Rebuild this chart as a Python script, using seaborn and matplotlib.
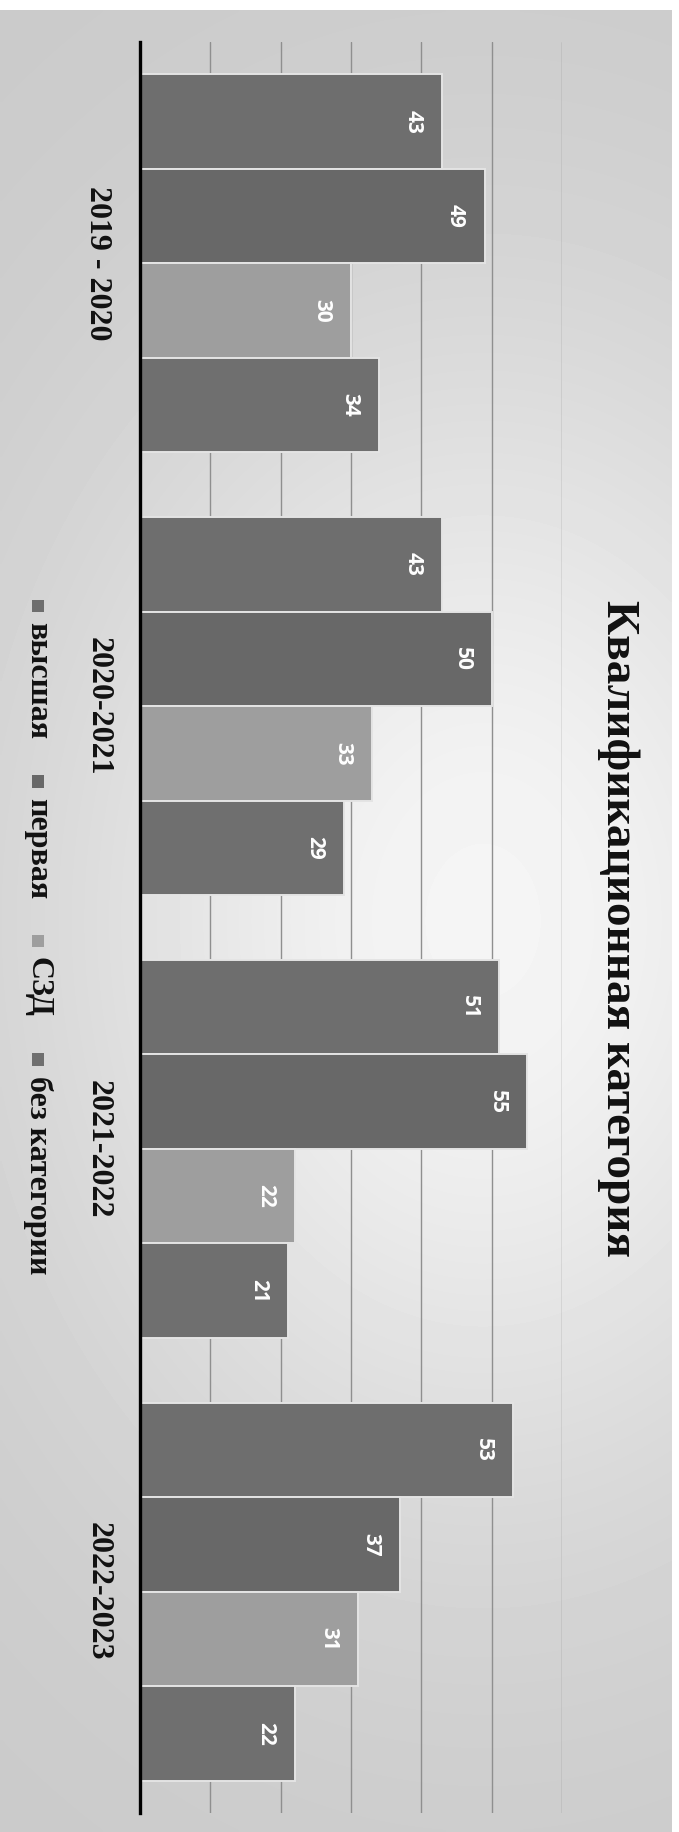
import numpy as np
import pandas as pd
import seaborn as sns
import matplotlib.pyplot as plt
from matplotlib.offsetbox import AnchoredOffsetbox, DrawingArea, TextArea, VPacker
from matplotlib.patches import Rectangle

years = ["2019 - 2020", "2020-2021", "2021-2022", "2022-2023"]
categories = ["высшая", "первая", "СЗД", "без категории"]
vysshaya = [43, 43, 51, 53]
pervaya = [49, 50, 55, 37]
szd = [30, 33, 22, 31]
bez_kat = [34, 29, 21, 22]
title = "Квалификационная категория"

colors = ["#6e6e6e", "#686868", "#9e9e9e", "#6f6f6f"]

sns.set_theme(style="white")
plt.rcParams['font.family'] = ['Liberation Serif', 'DejaVu Serif']

df = pd.DataFrame({
    'year': years * 4,
    'cat': [c for c in categories for _ in years],
    'value': vysshaya + pervaya + szd + bez_kat,
})

W, H = 679, 1832
fig = plt.figure(figsize=(W / 100, H / 100), dpi=100)
fig.patch.set_facecolor('white')

# scanned page background (light in the middle, greyer at the edges)
bg = fig.add_axes([0, 0, 672 / W, 1822 / H])
gx = np.linspace(0, 1, 200)
gy = np.linspace(0, 1, 400)
GX, GY = np.meshgrid(gx, gy)
shade = 0.79 + 0.17 * np.exp(-((GX - 0.72) / 0.65) ** 2 - ((GY - 0.5) / 0.32) ** 2)
bg.imshow(shade, cmap='gray', vmin=0, vmax=1, aspect='auto', extent=(0, 1, 0, 1),
          interpolation='bilinear')
bg.axis('off')
bg.set_zorder(-1)

ax = fig.add_axes([140 / W, 19 / H, 422 / W, 1771 / H])
ax.patch.set_alpha(0)

sns.barplot(data=df, y='year', x='value', hue='cat', orient='h', order=years,
            hue_order=categories, palette=colors, width=0.854, legend=False,
            edgecolor='#e4e4e4', linewidth=1.4, ax=ax)

ax.set_xlim(0, 60)
ax.set_xticks([10, 20, 30, 40, 50, 60])
ax.set_xticklabels([])
ax.xaxis.grid(True, color='#8f8f8f', linewidth=1)
ax.set_axisbelow(True)
ax.set_xlabel('')
ax.set_ylabel('')
for s in ['top', 'right', 'bottom']:
    ax.spines[s].set_visible(False)
ax.spines['left'].set_color('black')
ax.spines['left'].set_linewidth(2.4)
ax.spines['left'].set_zorder(5)
ax.tick_params(axis='x', length=0)
ax.tick_params(axis='y', length=0, pad=20, labelrotation=-90)
for lab in ax.get_yticklabels():
    lab.set_va('center')
    lab.set_fontsize(23)
    lab.set_fontweight('bold')
    lab.set_color('#111111')

for cont in ax.containers:
    anns = ax.bar_label(cont, padding=-21, color='white', fontsize=15,
                        rotation=-90, family='Open Sans', fontweight='bold')
    for a in anns:
        a.set_ha('center')

fig.text(618 / W, 1 - 928 / H, title, rotation=-90, ha='center', va='center',
         fontsize=34, fontweight='bold', color='#111111')

# legend, turned like the rest of the chart: marker above each label
entries = []
for name, col in zip(categories, colors):
    da = DrawingArea(9, 9)
    da.add_artist(Rectangle((0, 0), 9, 9, fc=col, ec='none'))
    ta = TextArea(name, textprops=dict(rotation=-90, fontsize=23, fontweight='bold',
                                       color='#111111'))
    entries.append(VPacker(children=[da, ta], align='center', pad=0, sep=7))
box = VPacker(children=entries, align='center', pad=0, sep=26)
leg = AnchoredOffsetbox(loc='center', child=box, pad=0, borderpad=0, frameon=False,
                        bbox_to_anchor=(38 / W, 1 - 937 / H),
                        bbox_transform=fig.transFigure)
fig.add_artist(leg)

plt.savefig('out.png', dpi=100)
